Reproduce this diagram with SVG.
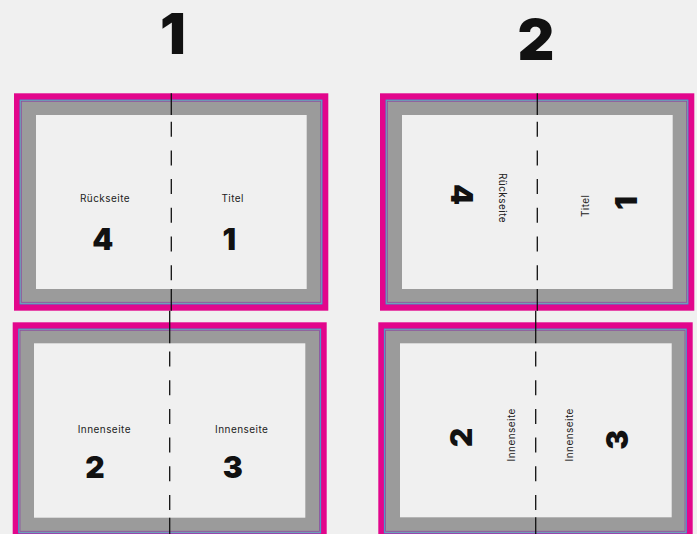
<svg xmlns="http://www.w3.org/2000/svg" width="697" height="534" viewBox="0 0 697 534">
<style>
.bleed{fill:#e2068c}
.trim{fill:#9b9b9b}
.cyan{fill:none;stroke:#2aa9e0;stroke-width:0.8}
.purp{fill:none;stroke:#8a4ea0;stroke-width:0.8}
.safe{fill:#f0f0f0}
.fold{stroke:#111;stroke-width:1.3}
.dash{stroke:#111;stroke-width:1.3;stroke-dasharray:15 13.7}
.lbl{font-family:Inter,"Open Sans",sans-serif;font-size:10px;letter-spacing:0.45px;fill:#222;text-anchor:middle}
.num{font-family:Inter,"Open Sans",sans-serif;font-size:30px;font-weight:900;fill:#111;text-anchor:middle}
.title{font-family:Inter,"Open Sans",sans-serif;font-size:57px;font-weight:900;fill:#111;text-anchor:middle}
</style>
<rect width="697" height="534" fill="#f0f0f0"/>
<g id="title-1"><text class="title" x="173" y="54">1</text></g>
<g id="title-2"><text class="title" x="536" y="60">2</text></g>

<g id="panel-1">
<rect class="bleed" x="14" y="93.3" width="314.3" height="217.4"/>
<rect class="trim" x="20" y="100" width="302" height="204"/>
<rect class="cyan" x="20" y="100" width="302" height="204"/>
<rect class="purp" x="21.3" y="101.3" width="299.4" height="201"/>
<rect class="safe" x="36" y="115" width="270.7" height="174"/>
<text class="lbl" x="105" y="201.7">Rückseite</text>
<text class="lbl" x="232.7" y="201.7">Titel</text>
<text class="num" x="102.7" y="250">4</text>
<text class="num" x="229.3" y="250">1</text>
</g>

<g id="panel-2">
<rect class="bleed" x="380" y="93.3" width="314.3" height="217.4"/>
<rect class="trim" x="386" y="100" width="302" height="204"/>
<rect class="cyan" x="386" y="100" width="302" height="204"/>
<rect class="purp" x="387.3" y="101.3" width="299.4" height="201"/>
<rect class="safe" x="402" y="115" width="270.7" height="174"/>
<text class="lbl" transform="translate(498.5 198) rotate(90)" x="0" y="0">Rückseite</text>
<text class="lbl" transform="translate(588.5 205.8) rotate(-90)" x="0" y="0">Titel</text>
<text class="num" transform="translate(450.5 194.5) rotate(90)" x="0" y="0">4</text>
<text class="num" transform="translate(636.5 203) rotate(-90)" x="0" y="0">1</text>
</g>

<g id="panel-3">
<rect class="bleed" x="12.7" y="322.3" width="314" height="217.4"/>
<rect class="trim" x="18.7" y="329" width="302" height="204"/>
<rect class="cyan" x="18.7" y="329" width="302" height="204"/>
<rect class="purp" x="20" y="330.3" width="299.4" height="201"/>
<rect class="safe" x="34" y="343.3" width="271.3" height="174.4"/>
<text class="lbl" x="104.3" y="433.3">Innenseite</text>
<text class="lbl" x="241.7" y="433.3">Innenseite</text>
<text class="num" x="95" y="478.3">2</text>
<text class="num" x="232.7" y="478.3">3</text>
</g>

<g id="panel-4">
<rect class="bleed" x="378.3" y="322.3" width="314.4" height="217.4"/>
<rect class="trim" x="384.3" y="329" width="302" height="204"/>
<rect class="cyan" x="384.3" y="329" width="302" height="204"/>
<rect class="purp" x="385.6" y="330.3" width="299.4" height="201"/>
<rect class="safe" x="400" y="343.3" width="271.7" height="174"/>
<text class="lbl" transform="translate(515 434.8) rotate(-90)" x="0" y="0">Innenseite</text>
<text class="lbl" transform="translate(572.8 434.8) rotate(-90)" x="0" y="0">Innenseite</text>
<text class="num" transform="translate(471.8 437.5) rotate(-90)" x="0" y="0">2</text>
<text class="num" transform="translate(627.5 439.7) rotate(-90)" x="0" y="0">3</text>
</g>

<g id="connectors">
<line class="fold" x1="171.3" y1="93.3" x2="171.3" y2="115"/>
<line class="dash" x1="171.3" y1="121.7" x2="171.3" y2="289"/>
<line class="fold" x1="171.3" y1="289" x2="171.3" y2="310.7"/>
<line class="fold" x1="537.3" y1="93.3" x2="537.3" y2="115"/>
<line class="dash" x1="537.3" y1="121.7" x2="537.3" y2="289"/>
<line class="fold" x1="537.3" y1="289" x2="537.3" y2="310.7"/>
<line class="fold" x1="169.7" y1="310.7" x2="169.7" y2="343.3"/>
<line class="dash" x1="169.7" y1="351.5" x2="169.7" y2="517.7"/>
<line class="fold" x1="169.7" y1="517.7" x2="169.7" y2="534"/>
<line class="fold" x1="535.7" y1="310.7" x2="535.7" y2="343.3"/>
<line class="dash" x1="535.7" y1="351.5" x2="535.7" y2="517.3"/>
<line class="fold" x1="535.7" y1="517.3" x2="535.7" y2="534"/>
</g>
</svg>
